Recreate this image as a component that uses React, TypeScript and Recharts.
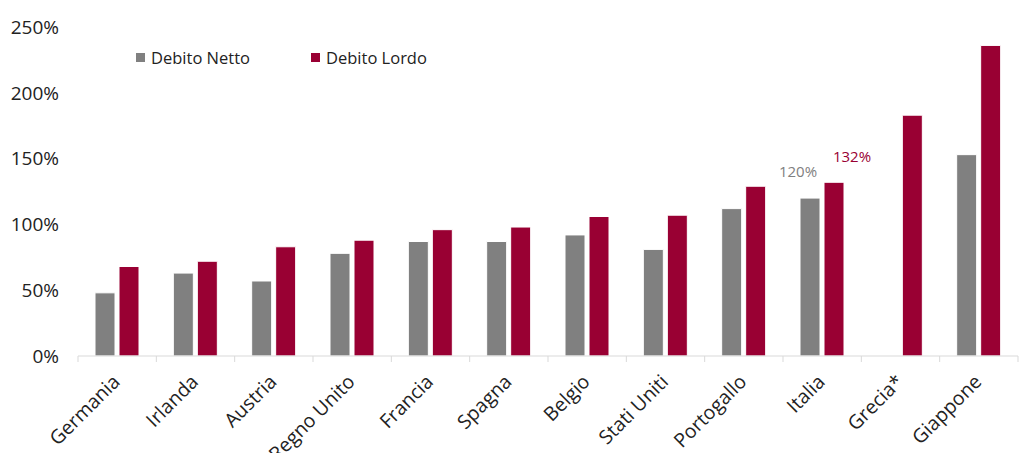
import React from "react";
import { BarChart, Bar, XAxis, YAxis, LabelList } from "recharts";

const countries = [
  "Germania",
  "Irlanda",
  "Austria",
  "Regno Unito",
  "Francia",
  "Spagna",
  "Belgio",
  "Stati Uniti",
  "Portogallo",
  "Italia",
  "Grecia*",
  "Giappone",
];
const debitoNetto = [48, 63, 57, 78, 87, 87, 92, 81, 112, 120, null, 153];
const debitoLordo = [68, 72, 83, 88, 96, 98, 106, 107, 129, 132, 183, 236];
const yTicks = [0, 50, 100, 150, 200, 250];
const seriesNames = ["Debito Netto", "Debito Lordo"];
const highlighted = "Italia";

const GRAY = "#808080";
const CRIMSON = "#990033";
const FONT = "'Open Sans', sans-serif";

const data = countries.map((name, i) => ({
  name,
  netto: debitoNetto[i],
  lordo: debitoLordo[i],
}));

const W = 1023;
const H = 453;
const LEFT = 78;
const RIGHT = 5;
const STEP = (W - LEFT - RIGHT) / countries.length;

const CategoryTick = (props: any) => {
  const { x, y, payload, index } = props;
  const left = x - STEP / 2;
  const tx = x + 4;
  const ty = y + 19;
  return (
    <g>
      <line x1={left} y1={y - 8} x2={left} y2={y - 2} stroke="#d9d9d9" />
      {index === countries.length - 1 && (
        <line x1={left + STEP} y1={y - 8} x2={left + STEP} y2={y - 2} stroke="#d9d9d9" />
      )}
      <text
        x={tx}
        y={ty}
        textAnchor="end"
        transform={`rotate(-45, ${tx}, ${ty})`}
        fontSize={19.5}
        fill="#222"
        fontFamily={FONT}
      >
        {payload.value}
      </text>
    </g>
  );
};

const makeLabel = (color: string, dx: number, dy: number) => (props: any) => {
  const { x, y, width, value, index } = props;
  if (countries[index] !== highlighted || value == null) return null;
  return (
    <text
      x={x + width / 2 + dx}
      y={y + dy}
      textAnchor="middle"
      fontSize={15}
      fill={color}
      fontFamily={FONT}
    >
      {value}%
    </text>
  );
};

export default function App() {
  return (
    <div style={{ position: "absolute", left: 0, top: 0, width: W, height: H, background: "#fff" }}>
      <BarChart
        width={W}
        height={H}
        data={data}
        margin={{ top: 27, right: RIGHT, bottom: 0, left: 0 }}
        barGap={4}
        barSize={20}
      >
        <XAxis
          dataKey="name"
          interval={0}
          height={97}
          axisLine={{ stroke: "#d9d9d9" }}
          tickLine={false}
          tick={<CategoryTick />}
        />
        <YAxis
          width={LEFT}
          domain={[0, 250]}
          ticks={yTicks}
          axisLine={false}
          tickLine={false}
          tickFormatter={(v: number) => `${v}%`}
          tick={{ fontSize: 19, fill: "#222", fontFamily: FONT }}
          tickMargin={13}
        />
        <Bar dataKey="netto" name={seriesNames[0]} fill={GRAY} stroke="#fff" isAnimationActive={false}>
          <LabelList dataKey="netto" content={makeLabel(GRAY, -12, -21)} />
        </Bar>
        <Bar dataKey="lordo" name={seriesNames[1]} fill={CRIMSON} stroke="#fff" isAnimationActive={false}>
          <LabelList dataKey="lordo" content={makeLabel(CRIMSON, 18, -20)} />
        </Bar>
      </BarChart>
      <div
        style={{
          position: "absolute",
          top: 46,
          left: 136,
          display: "flex",
          fontFamily: FONT,
          fontSize: 16.5,
          color: "#222",
        }}
      >
        {seriesNames.map((label, i) => (
          <div key={label} style={{ display: "flex", alignItems: "center", width: 175 }}>
            <span
              style={{
                width: 9,
                height: 9,
                background: i === 0 ? GRAY : CRIMSON,
                marginRight: 6,
                display: "inline-block",
              }}
            />
            {label}
          </div>
        ))}
      </div>
    </div>
  );
}
